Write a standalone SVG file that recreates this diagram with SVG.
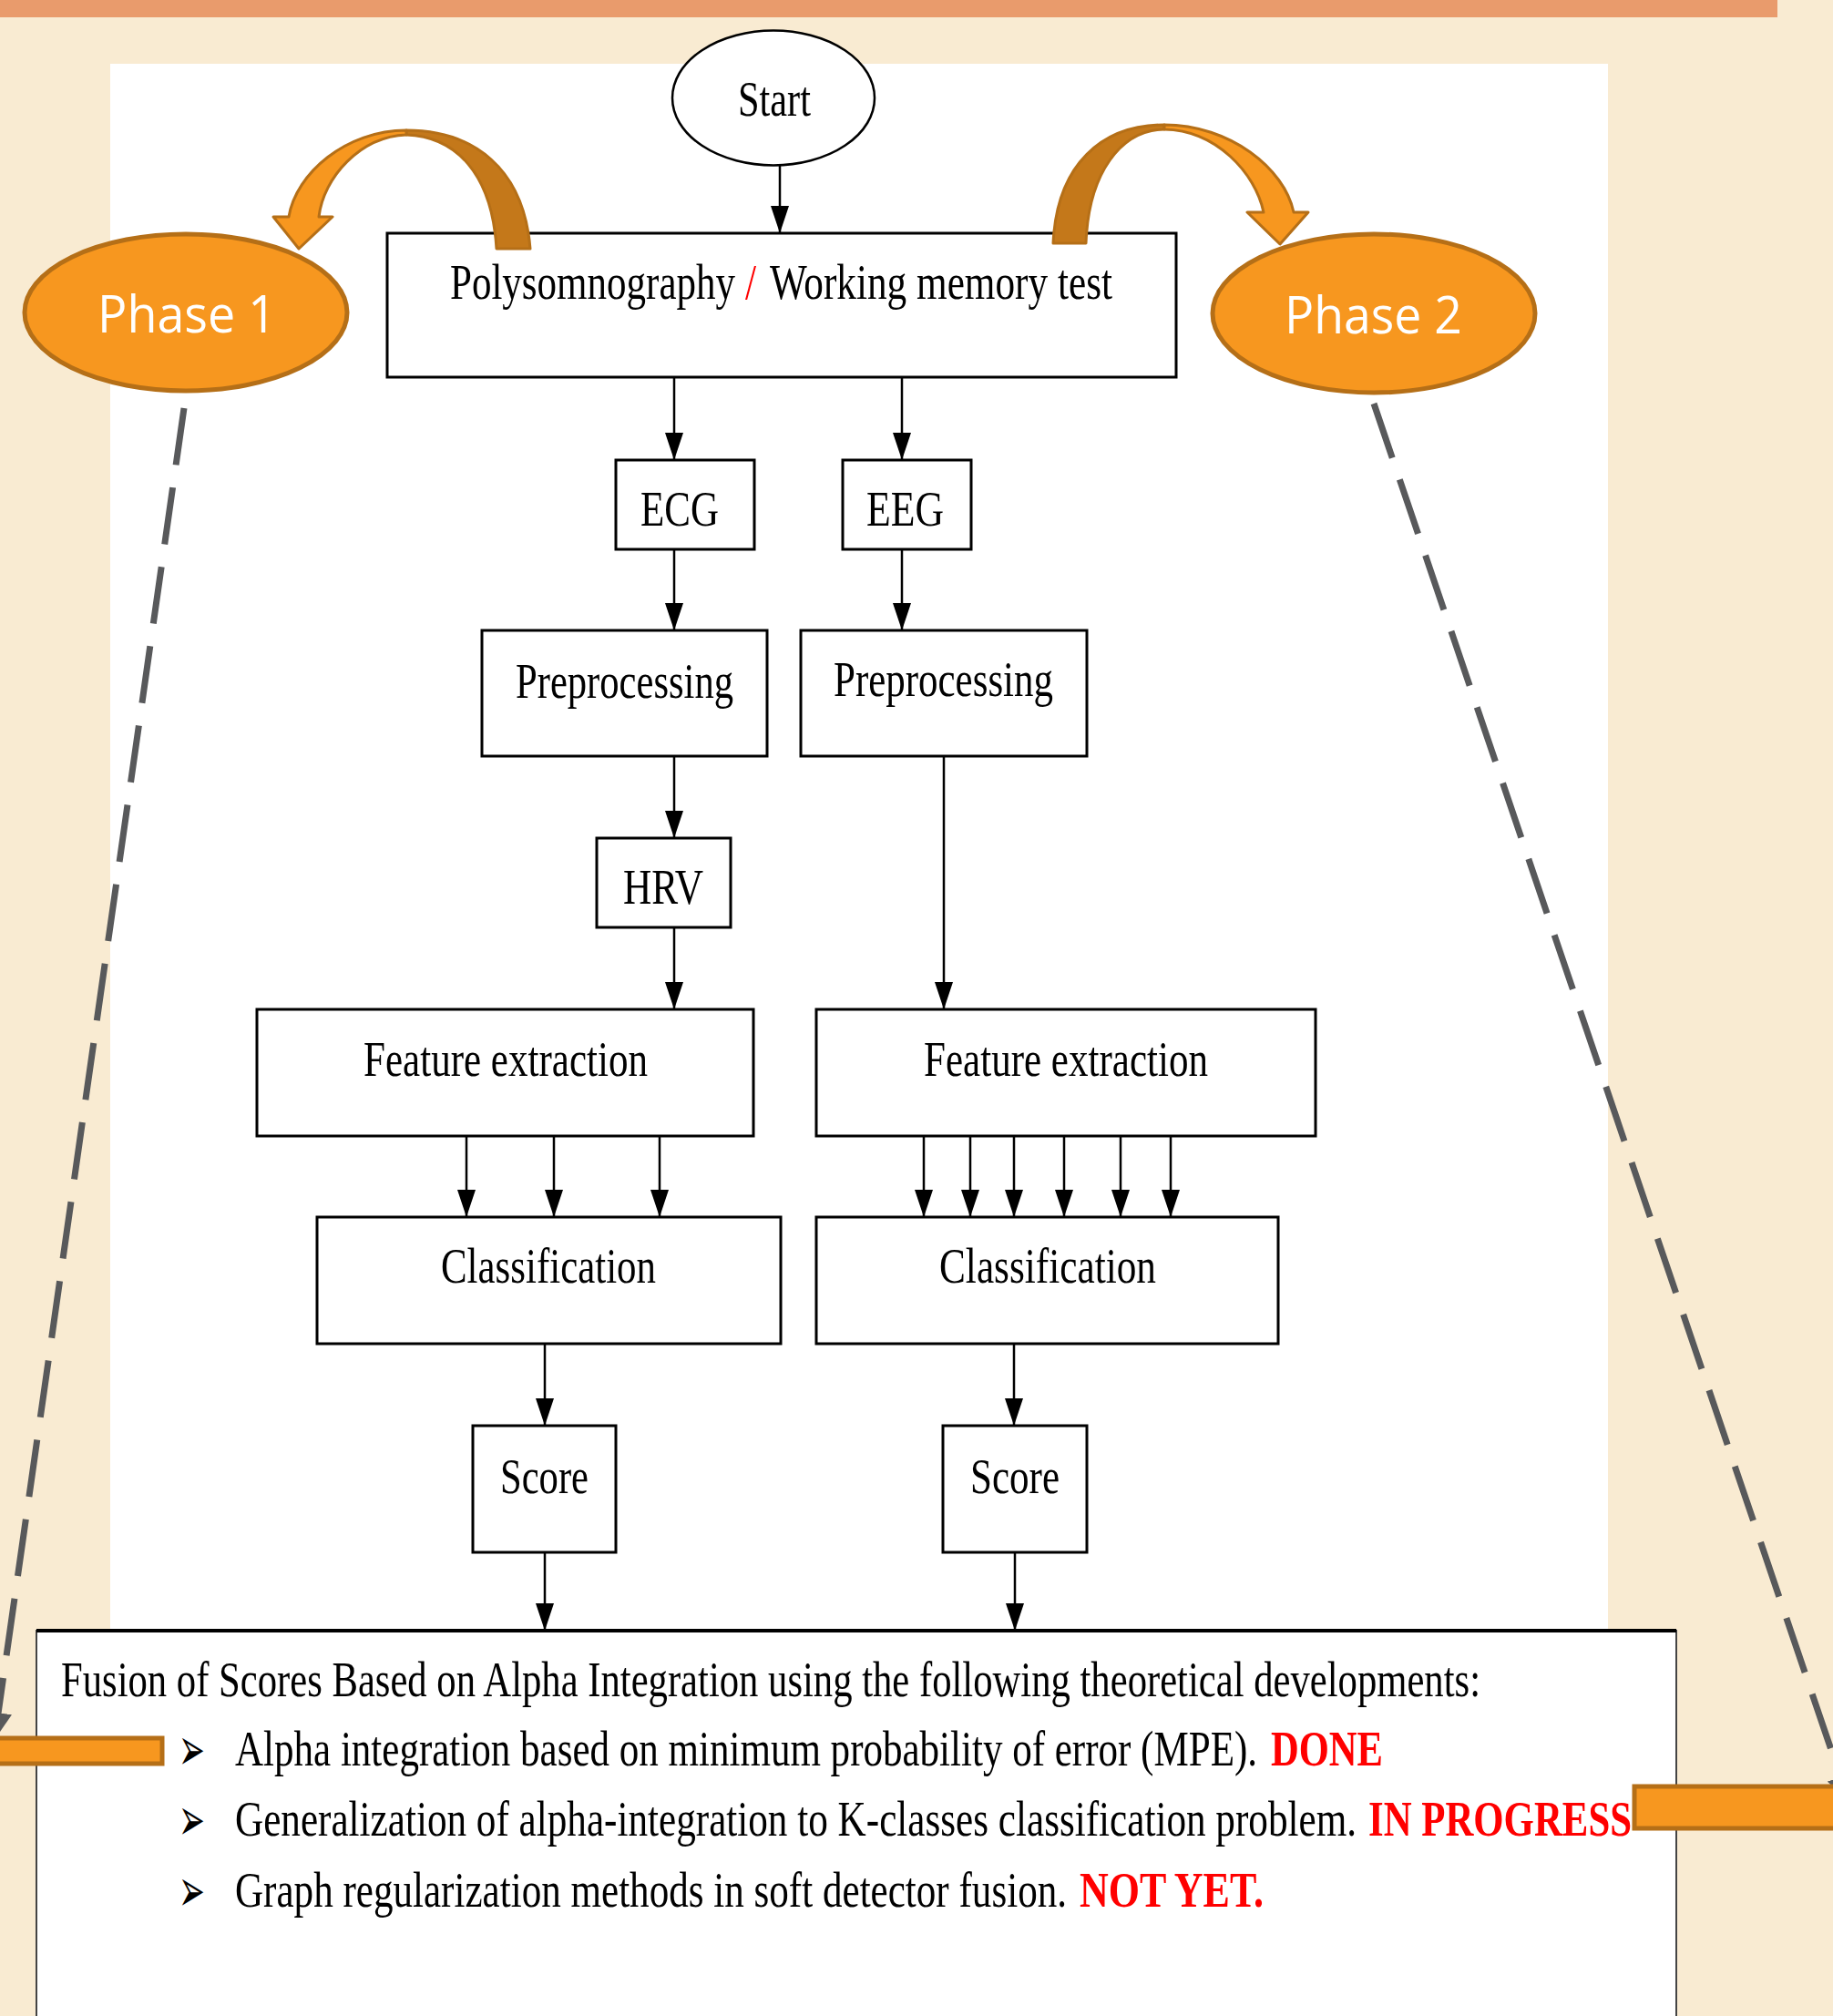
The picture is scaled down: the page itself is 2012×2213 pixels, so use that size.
<svg xmlns="http://www.w3.org/2000/svg" width="2012" height="2213" viewBox="0 0 2012 2213">
<defs>
<style>
.box{fill:#fff;stroke:#000;stroke-width:3}
.lbl{font-family:"Liberation Serif","Times New Roman",serif;font-size:43px;fill:#000}
.ftxt{font-family:"Liberation Serif","Times New Roman",serif;font-size:42px;fill:#000}
.red{font-family:"Liberation Serif","Times New Roman",serif;font-size:42px;fill:#ff0000;font-weight:bold}
.con{stroke:#000;stroke-width:2.5;fill:none;marker-end:url(#ah)}
.phase{fill:#F7971F;stroke:#B56F17;stroke-width:5}
.ptxt{font-family:"Open Sans","Noto Sans",sans-serif;font-size:48px;fill:#fff}
.dash{stroke:#58595B;stroke-width:7;fill:none;stroke-dasharray:63 25;marker-end:url(#gah)}
.bul{font-family:"DejaVu Sans",sans-serif;font-size:30px;fill:#000}
.light{fill:#F7971F;stroke:#B56F17;stroke-width:3;stroke-linejoin:round}
.dark{fill:#C4781A;stroke:#B56F17;stroke-width:3;stroke-linejoin:round}
</style>
<marker id="ah" viewBox="0 0 30 20" markerWidth="30" markerHeight="20" refX="30" refY="10" orient="auto" markerUnits="userSpaceOnUse">
<path d="M0,0 L30,10 L0,20 z" fill="#000"/>
</marker>
<marker id="gah" viewBox="0 0 30 30" markerWidth="30" markerHeight="30" refX="15" refY="15" orient="auto" markerUnits="userSpaceOnUse">
<path d="M0,0 L30,15 L0,30 z" fill="#58595B"/>
</marker>
</defs>

<!-- background -->
<rect x="0" y="0" width="2012" height="2213" fill="#F9EBD2"/>
<rect x="0" y="0" width="1951" height="19" fill="#E99B6C"/>
<rect x="121" y="70" width="1644" height="1740" fill="#fff"/>

<!-- dashed phase lines -->
<g id="phase-lines">
<line class="dash" x1="202" y1="448" x2="-4" y2="1895"/>
<line class="dash" x1="1508" y1="443" x2="2025" y2="1965"/>
</g>

<!-- connectors -->
<g id="connectors">
<line class="con" x1="856" y1="182" x2="856" y2="256"/>
<line class="con" x1="740" y1="414" x2="740" y2="505"/>
<line class="con" x1="990" y1="414" x2="990" y2="505"/>
<line class="con" x1="740" y1="603" x2="740" y2="692"/>
<line class="con" x1="990" y1="603" x2="990" y2="692"/>
<line class="con" x1="740" y1="830" x2="740" y2="920"/>
<line class="con" x1="740" y1="1018" x2="740" y2="1108"/>
<line class="con" x1="1036" y1="830" x2="1036" y2="1108"/>
<line class="con" x1="512" y1="1247" x2="512" y2="1336"/>
<line class="con" x1="608" y1="1247" x2="608" y2="1336"/>
<line class="con" x1="724" y1="1247" x2="724" y2="1336"/>
<line class="con" x1="1014" y1="1247" x2="1014" y2="1336"/>
<line class="con" x1="1065" y1="1247" x2="1065" y2="1336"/>
<line class="con" x1="1113" y1="1247" x2="1113" y2="1336"/>
<line class="con" x1="1168" y1="1247" x2="1168" y2="1336"/>
<line class="con" x1="1230" y1="1247" x2="1230" y2="1336"/>
<line class="con" x1="1285" y1="1247" x2="1285" y2="1336"/>
<line class="con" x1="598" y1="1475" x2="598" y2="1565"/>
<line class="con" x1="1113" y1="1475" x2="1113" y2="1565"/>
<line class="con" x1="598" y1="1704" x2="598" y2="1790"/>
<line class="con" x1="1114" y1="1704" x2="1114" y2="1790"/>
</g>

<!-- nodes -->
<g id="start">
<ellipse cx="849" cy="107.5" rx="111" ry="74" fill="#fff" stroke="#000" stroke-width="2.5"/>
<text class="lbl" transform="translate(810,127) scale(1,1.3)" textLength="80" lengthAdjust="spacingAndGlyphs">Start</text>
</g>

<g id="psg">
<rect class="box" x="425" y="256" width="866" height="158"/>
<text class="lbl" transform="translate(494,328) scale(1,1.3)" textLength="313" lengthAdjust="spacingAndGlyphs">Polysomnography</text>
<text class="lbl" transform="translate(818,328) scale(1,1.3)" textLength="12" lengthAdjust="spacingAndGlyphs" style="fill:#ff0000">/</text>
<text class="lbl" transform="translate(845,328) scale(1,1.3)" textLength="376" lengthAdjust="spacingAndGlyphs">Working memory test</text>
</g>

<g id="ecg">
<rect class="box" x="676" y="505" width="152" height="98"/>
<text class="lbl" transform="translate(703,577) scale(1,1.3)" textLength="86" lengthAdjust="spacingAndGlyphs">ECG</text>
</g>
<g id="eeg">
<rect class="box" x="925" y="505" width="141" height="98"/>
<text class="lbl" transform="translate(951,577) scale(1,1.3)" textLength="85" lengthAdjust="spacingAndGlyphs">EEG</text>
</g>

<g id="prep1">
<rect class="box" x="529" y="692" width="313" height="138"/>
<text class="lbl" transform="translate(566,766) scale(1,1.3)" textLength="239" lengthAdjust="spacingAndGlyphs">Preprocessing</text>
</g>
<g id="prep2">
<rect class="box" x="879" y="692" width="314" height="138"/>
<text class="lbl" transform="translate(915,764) scale(1,1.3)" textLength="241" lengthAdjust="spacingAndGlyphs">Preprocessing</text>
</g>

<g id="hrv">
<rect class="box" x="655" y="920" width="147" height="98"/>
<text class="lbl" transform="translate(684,992) scale(1,1.3)" textLength="88" lengthAdjust="spacingAndGlyphs">HRV</text>
</g>

<g id="fe1">
<rect class="box" x="282" y="1108" width="545" height="139"/>
<text class="lbl" transform="translate(399,1181) scale(1,1.3)" textLength="312" lengthAdjust="spacingAndGlyphs">Feature extraction</text>
</g>
<g id="fe2">
<rect class="box" x="896" y="1108" width="548" height="139"/>
<text class="lbl" transform="translate(1014,1181) scale(1,1.3)" textLength="312" lengthAdjust="spacingAndGlyphs">Feature extraction</text>
</g>

<g id="class1">
<rect class="box" x="348" y="1336" width="509" height="139"/>
<text class="lbl" transform="translate(484,1408) scale(1,1.3)" textLength="236" lengthAdjust="spacingAndGlyphs">Classification</text>
</g>
<g id="class2">
<rect class="box" x="896" y="1336" width="507" height="139"/>
<text class="lbl" transform="translate(1031,1408) scale(1,1.3)" textLength="238" lengthAdjust="spacingAndGlyphs">Classification</text>
</g>

<g id="score1">
<rect class="box" x="519" y="1565" width="157" height="139"/>
<text class="lbl" transform="translate(549,1639) scale(1,1.3)" textLength="97" lengthAdjust="spacingAndGlyphs">Score</text>
</g>
<g id="score2">
<rect class="box" x="1035" y="1565" width="158" height="139"/>
<text class="lbl" transform="translate(1065,1639) scale(1,1.3)" textLength="98" lengthAdjust="spacingAndGlyphs">Score</text>
</g>

<g id="fusion">
<rect x="40" y="1790" width="1800" height="440" fill="#fff" stroke="#444" stroke-width="2"/>
<line x1="40" y1="1790" x2="1840" y2="1790" stroke="#000" stroke-width="4"/>
<text class="ftxt" transform="translate(67,1862) scale(1,1.3)" textLength="1558" lengthAdjust="spacingAndGlyphs">Fusion of Scores Based on Alpha Integration using the following theoretical developments:</text>
<text class="bul" transform="translate(196,1920) scale(1.15,2.2)" x="0" y="10.6">➢</text>
<text class="ftxt" transform="translate(258,1938) scale(1,1.3)" textLength="1122" lengthAdjust="spacingAndGlyphs">Alpha integration based on minimum probability of error (MPE).</text>
<text class="red" transform="translate(1395,1938) scale(1,1.3)" textLength="123" lengthAdjust="spacingAndGlyphs">DONE</text>
<text class="bul" transform="translate(196,1997) scale(1.15,2.2)" x="0" y="10.6">➢</text>
<text class="ftxt" transform="translate(258,2015) scale(1,1.3)" textLength="1231" lengthAdjust="spacingAndGlyphs">Generalization of alpha-integration to K-classes classification problem.</text>
<text class="red" transform="translate(1502,2015) scale(1,1.3)" textLength="289" lengthAdjust="spacingAndGlyphs">IN PROGRESS</text>
<text class="bul" transform="translate(196,2075) scale(1.15,2.2)" x="0" y="10.6">➢</text>
<text class="ftxt" transform="translate(258,2093) scale(1,1.3)" textLength="913" lengthAdjust="spacingAndGlyphs">Graph regularization methods in soft detector fusion.</text>
<text class="red" transform="translate(1185,2093) scale(1,1.3)" textLength="202" lengthAdjust="spacingAndGlyphs">NOT YET.</text>
</g>

<!-- phase bars -->
<g id="bar-left">
<rect x="-10" y="1908" width="188" height="28" fill="#F7971F" stroke="#B56F17" stroke-width="5"/>
</g>
<g id="bar-right">
<rect x="1794" y="1961" width="230" height="46" fill="#F7971F" stroke="#B56F17" stroke-width="5"/>
</g>

<!-- curved arrows -->
<g id="curve-left">
<path class="dark" d="M582,273 C575,185 520,143 446,143 L446,148 C500,150 540,190 545,273 Z"/>
<path class="light" d="M446,143 C380,143 325,190 317,238 L300,238 L328,273 L365,238 L350,238 C355,195 395,150 446,148 Z"/>
</g>
<g id="curve-right">
<path class="dark" d="M1156,267 C1160,180 1210,137 1278,137 L1278,142 C1230,143 1195,190 1192,267 Z"/>
<path class="light" d="M1278,137 C1350,137 1410,185 1420,233 L1436,233 L1405,268 L1369,233 L1387,233 C1378,190 1335,143 1278,142 Z"/>
</g>

<g id="phase1">
<ellipse class="phase" cx="204" cy="343" rx="177" ry="86"/>
<text class="ptxt" transform="translate(107,365) scale(1,1.17)" textLength="196" lengthAdjust="spacingAndGlyphs">Phase 1</text>
</g>
<g id="phase2">
<ellipse class="phase" cx="1508" cy="344" rx="177" ry="87"/>
<text class="ptxt" transform="translate(1410,366) scale(1,1.17)" textLength="195" lengthAdjust="spacingAndGlyphs">Phase 2</text>
</g>
</svg>
